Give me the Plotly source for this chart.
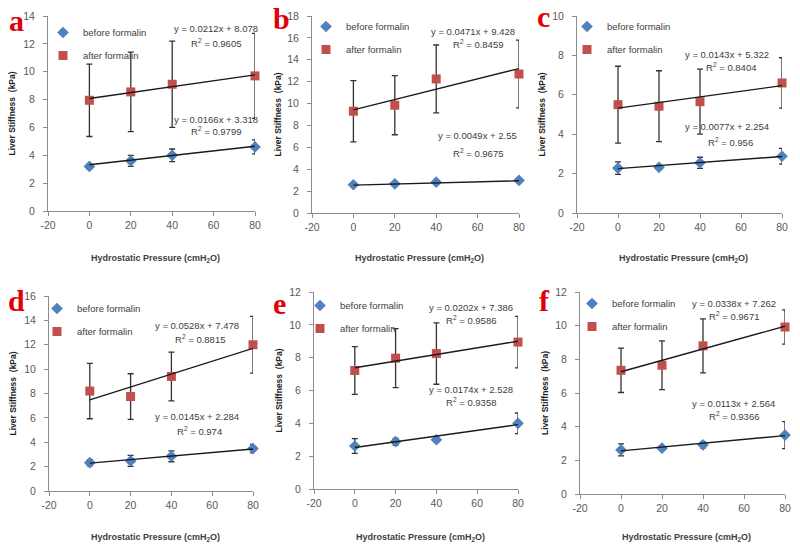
import plotly.graph_objects as go

# ---------------- data ----------------
panel_letters = ["a", "b", "c", "d", "e", "f"]
pressure = [0, 20, 40, 80]
x_ticks = [-20, 0, 20, 40, 60, 80]
x_tick_labels = ["-20", "0", "20", "40", "60", "80"]
y_max = [14, 18, 10, 16, 12, 12]

before_a = [3.2, 3.6, 4.0, 4.6]
before_err_a = [0.15, 0.4, 0.45, 0.5]
after_a = [7.95, 8.55, 9.1, 9.7]
after_err_a = [2.6, 2.85, 3.1, 3.05]

before_b = [2.58, 2.67, 2.82, 2.98]
before_err_b = [0.12, 0.1, 0.15, 0.12]
after_b = [9.3, 9.85, 12.25, 12.7]
after_err_b = [2.8, 2.7, 3.1, 3.1]

before_c = [2.28, 2.32, 2.55, 2.88]
before_err_c = [0.32, 0.1, 0.28, 0.4]
after_c = [5.5, 5.42, 5.65, 6.6]
after_err_c = [1.95, 1.8, 1.65, 1.28]

before_d = [2.32, 2.47, 2.85, 3.48]
before_err_d = [0.25, 0.45, 0.45, 0.35]
after_d = [8.2, 7.75, 9.4, 12.0]
after_err_d = [2.27, 1.87, 2.0, 2.33]

before_e = [2.62, 2.88, 3.0, 4.0]
before_err_e = [0.45, 0.2, 0.15, 0.63]
after_e = [7.22, 7.97, 8.25, 8.95]
after_err_e = [1.45, 1.8, 1.87, 1.57]

before_f = [2.62, 2.72, 2.92, 3.5]
before_err_f = [0.36, 0.1, 0.18, 0.8]
after_f = [7.35, 7.65, 8.8, 9.92]
after_err_f = [1.32, 1.45, 1.6, 1.02]

slope_before = [0.0166, 0.0049, 0.0077, 0.0145, 0.0174, 0.0113]
intercept_before = [3.318, 2.55, 2.254, 2.284, 2.528, 2.564]
r2_before = [0.9799, 0.9675, 0.956, 0.974, 0.9358, 0.9366]
slope_after = [0.0212, 0.0471, 0.0143, 0.0528, 0.0202, 0.0338]
intercept_after = [8.078, 9.428, 5.322, 7.478, 7.386, 7.262]
r2_after = [0.9605, 0.8459, 0.8404, 0.8815, 0.9586, 0.9671]

before_all = [before_a, before_b, before_c, before_d, before_e, before_f]
before_err_all = [before_err_a, before_err_b, before_err_c, before_err_d, before_err_e, before_err_f]
after_all = [after_a, after_b, after_c, after_d, after_e, after_f]
after_err_all = [after_err_a, after_err_b, after_err_c, after_err_d, after_err_e, after_err_f]

# ---------------- layout (pixels) ----------------
W, H = 800, 556
# plot area per panel: (left, right, top, bottom) in px
boxes = [(48, 255, 16, 211), (312, 519, 16, 213), (577, 782, 16, 213),
         (49, 253, 296, 491), (314, 518, 292, 489), (580, 785, 292, 494)]
# equation label positions (data coords): after eq, after R2, before eq, before R2
eq_pos = [
    [(61, 13.07), (61, 12.06), (61, 6.6), (61, 5.74)],
    [(58, 16.55), (60, 15.48), (60, 7.04), (60, 5.46)],
    [(53, 8.05), (55, 7.41), (53, 4.37), (55, 3.6)],
    [(52.5, 13.6), (54, 12.5), (52.5, 6.15), (54, 4.95)],
    [(57, 11.08), (57, 10.27), (57, 6.04), (57, 5.27)],
    [(55, 11.3), (55, 10.55), (55, 5.37), (55, 4.65)],
]
legend_sym = [(63, 32), (326, 26), (587, 26), (57, 308), (320, 305), (592, 303)]
letter_pos = [(16, 20), (281, 18), (543, 16), (16, 300), (279, 303), (544, 300)]
ytitle_x = [12, 278, 542, 12, 278, 545]

BLUE = "#4F81BD"
RED = "#C0504D"
GRAY_AX = "#8C8C8C"
TXT = "#404040"
FONT = "Liberation Sans, Arial, sans-serif"

fig = go.Figure()
layout = dict(
    width=W, height=H, margin=dict(l=0, r=0, t=0, b=0, autoexpand=False),
    paper_bgcolor="white", plot_bgcolor="white", showlegend=True,
    font=dict(family=FONT, size=11, color=TXT),
)
annotations = []


def px_x(p):
    return p / W


def px_y(p):
    return 1 - p / H


for i in range(6):
    n = "" if i == 0 else str(i + 1)
    xa, ya = "x" + n, "y" + n
    lg = "legend" + n
    l, r, t, b = boxes[i]

    layout["xaxis" + n] = dict(
        domain=[px_x(l), px_x(r)], anchor=ya, range=[-20, 80], automargin=False,
        tickvals=x_ticks, ticktext=x_tick_labels, ticks="outside", ticklen=4, tickcolor=GRAY_AX,
        showline=True, linecolor=GRAY_AX, linewidth=1, showgrid=False, zeroline=False,
        tickfont=dict(size=10.5, color="#595959"),
    )
    layout["yaxis" + n] = dict(
        domain=[px_y(b), px_y(t)], anchor=xa, range=[0, y_max[i]], dtick=2, automargin=False,
        ticks="outside", ticklen=4, tickcolor=GRAY_AX,
        showline=True, linecolor=GRAY_AX, linewidth=1, showgrid=False, zeroline=False,
        tickfont=dict(size=10.5, color="#595959"), ticklabelstandoff=6,
    )

    sx, sy = legend_sym[i]
    layout[lg] = dict(
        x=px_x(sx - 20), y=px_y(sy - 14), xanchor="left", yanchor="top",
        bgcolor="rgba(0,0,0,0)", font=dict(size=9.5, color=TXT, family=FONT),
        tracegroupgap=4, itemwidth=30,
    )

    fig.add_trace(go.Scatter(
        x=pressure, y=before_all[i], mode="markers", name="before formalin",
        marker=dict(symbol="diamond", size=9, color=BLUE),
        error_y=dict(type="data", array=before_err_all[i], color="#333333", thickness=1.3, width=3),
        xaxis=xa, yaxis=ya, legend=lg, legendgroup="before" + n, cliponaxis=False,
    ))
    fig.add_trace(go.Scatter(
        x=pressure, y=after_all[i], mode="markers", name="after formalin",
        marker=dict(symbol="square", size=9, color=RED),
        error_y=dict(type="data", array=after_err_all[i], color="#333333", thickness=1.3, width=3),
        xaxis=xa, yaxis=ya, legend=lg, legendgroup="after" + n, cliponaxis=False,
    ))
    # linear trendlines from the displayed regression equations
    xs = [pressure[0], pressure[-1]]
    for sl, ic in ((slope_before[i], intercept_before[i]), (slope_after[i], intercept_after[i])):
        fig.add_trace(go.Scatter(
            x=xs, y=[sl * v + ic for v in xs], mode="lines",
            line=dict(color="#1a1a1a", width=1.4), showlegend=False, hoverinfo="skip",
            xaxis=xa, yaxis=ya,
        ))

    texts = [
        f"y = {slope_after[i]:g}x + {intercept_after[i]:g}",
        f"R<sup>2</sup> = {r2_after[i]:g}",
        f"y = {slope_before[i]:g}x + {intercept_before[i]:g}",
        f"R<sup>2</sup> = {r2_before[i]:g}",
    ]
    for txt, (ax_, ay_) in zip(texts, eq_pos[i]):
        annotations.append(dict(
            x=ax_, y=ay_, xref=xa, yref=ya, text=txt, showarrow=False,
            font=dict(size=9.5, color=TXT, family=FONT), xanchor="center", yanchor="middle",
        ))

    # panel letter
    lx, ly = letter_pos[i]
    annotations.append(dict(
        x=px_x(lx), y=px_y(ly), xref="paper", yref="paper", text=f"<b>{panel_letters[i]}</b>",
        showarrow=False, xanchor="center", yanchor="middle",
        font=dict(family="Liberation Serif, Times New Roman, serif", size=30, color="#E0000B"),
    ))
    # axis titles
    row_top = i < 3
    annotations.append(dict(
        x=px_x((l + r) / 2 + 4), y=px_y(258 if row_top else 537), xref="paper", yref="paper",
        text="<b>Hydrostatic Pressure (cmH<sub>2</sub>O)</b>", showarrow=False,
        xanchor="center", yanchor="middle", font=dict(size=9, color=TXT, family=FONT),
    ))
    annotations.append(dict(
        x=px_x(ytitle_x[i]), y=px_y((t + b) / 2), xref="paper", yref="paper",
        text="<b>Liver Stiffness  (kPa)</b>", showarrow=False, textangle=-90,
        xanchor="center", yanchor="middle", font=dict(size=8.5, color="#222222", family=FONT),
    ))

layout["annotations"] = annotations
fig.update_layout(**layout)
fig.write_html("out.html", config={"displayModeBar": False},
               post_script="document.body.style.margin='0px';")
